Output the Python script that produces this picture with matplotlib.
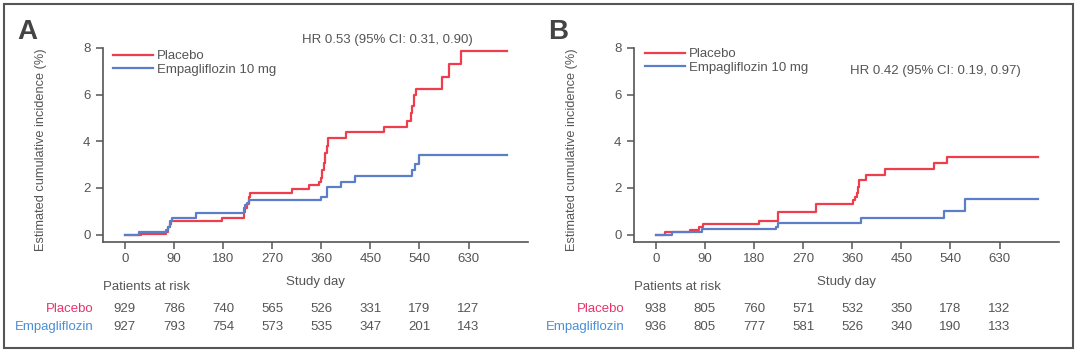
import matplotlib
matplotlib.use("Agg")
import matplotlib.pyplot as plt
from matplotlib.patches import Rectangle

plt.rcParams['font.family'] = ['Liberation Sans', 'DejaVu Sans']

# painel A
dias_plac_a = [0, 30, 76, 79, 82, 85, 179, 218, 221, 224, 227, 230, 307, 338, 356, 360, 362, 365,
               367, 370, 372, 406, 475, 518, 524, 527, 530, 533, 582, 594, 617, 700]
inc_plac_a = [0, 0.04, 0.13, 0.34, 0.46, 0.56, 0.70, 0.96, 1.13, 1.31, 1.63, 1.79, 1.94, 2.11, 2.27, 2.41,
              2.77, 3.06, 3.5, 3.8, 4.16, 4.4, 4.63, 4.89, 5.2, 5.5, 5.97, 6.26, 6.76, 7.31, 7.86, 7.86]
dias_empa_a = [0, 26, 75, 79, 83, 87, 130, 218, 221, 224, 227, 360, 370, 397, 422, 527, 532, 540, 700]
inc_empa_a = [0, 0.11, 0.2, 0.34, 0.56, 0.69, 0.93, 1.13, 1.27, 1.37, 1.46, 1.63, 2.06, 2.27, 2.53,
              2.77, 3.03, 3.43, 3.43]

# painel B
dias_plac_b = [0, 16, 62, 79, 87, 189, 224, 294, 361, 365, 368, 370, 373, 385, 420, 509, 533, 700]
inc_plac_b = [0, 0.11, 0.2, 0.33, 0.46, 0.57, 0.97, 1.3, 1.46, 1.63, 1.8, 2.06, 2.33, 2.56, 2.79,
              3.06, 3.34, 3.34]
dias_empa_b = [0, 29, 85, 221, 224, 376, 529, 567, 700]
inc_empa_b = [0, 0.11, 0.23, 0.34, 0.49, 0.73, 1.0, 1.51, 1.51]

ticks_dia = [0, 90, 180, 270, 360, 450, 540, 630]
risco_plac_a = [929, 786, 740, 565, 526, 331, 179, 127]
risco_empa_a = [927, 793, 754, 573, 535, 347, 201, 143]
risco_plac_b = [938, 805, 760, 571, 532, 350, 178, 132]
risco_empa_b = [936, 805, 777, 581, 526, 340, 190, 133]

hr_a = "HR 0.53 (95% CI: 0.31, 0.90)"
hr_b = "HR 0.42 (95% CI: 0.19, 0.97)"

COR_PLAC = '#EE3E4E'
COR_EMPA = '#5A7EC8'
COR_TXT_PLAC = '#E8336B'
COR_TXT_EMPA = '#4A8FD6'
CINZA = '#555555'

W, H = 1080, 355


def painel(fig, x0, letra, dp, ip, de, ie, rp, re_, hr, hr_pos, leg_pos):
    # eixo em pixels: esquerda x0, largura 425, topo 48, base 242
    ax = fig.add_axes([x0 / W, 1 - 242 / H, 425 / W, 194 / H])
    ax.step(dp, ip, where='post', color=COR_PLAC, lw=1.6, label='Placebo')
    ax.step(de, ie, where='post', color=COR_EMPA, lw=1.6, label='Empagliflozin 10 mg')
    ax.set_xlim(-40, 739)
    ax.set_ylim(-0.32, 8)
    ax.set_xticks(ticks_dia)
    ax.set_yticks([0, 2, 4, 6, 8])
    for s in ['top', 'right']:
        ax.spines[s].set_visible(False)
    for s in ['left', 'bottom']:
        ax.spines[s].set_color(CINZA)
        ax.spines[s].set_linewidth(1.2)
    ax.tick_params(axis='both', colors=CINZA, labelsize=9.5, length=5, width=1.1)
    ax.tick_params(axis='x', pad=3)
    ax.tick_params(axis='y', pad=4)

    leg = ax.legend(loc='upper left', bbox_to_anchor=leg_pos, frameon=False, fontsize=9.5,
                    handlelength=3.0, handletextpad=0.3, labelspacing=0.1, borderpad=0,
                    borderaxespad=0)
    for t in leg.get_texts():
        t.set_color(CINZA)

    ax.text(hr_pos[0], hr_pos[1], hr, transform=ax.transAxes, ha='center', va='center',
            fontsize=9.5, color=CINZA)
    ax.text(0.5, -0.206, "Study day", transform=ax.transAxes, ha='center', va='center',
            fontsize=9.5, color=CINZA)
    ax.text(0.0, -0.232, "Patients at risk", transform=ax.transAxes, ha='left', va='center',
            fontsize=9.5, color=CINZA)

    trans = ax.get_xaxis_transform()
    ax.text(-57, -0.345, "Placebo", transform=trans, ha='right', va='center', fontsize=9.5,
            color=COR_TXT_PLAC, clip_on=False)
    ax.text(-57, -0.438, "Empagliflozin", transform=trans, ha='right', va='center', fontsize=9.5,
            color=COR_TXT_EMPA, clip_on=False)
    for d, a, b in zip(ticks_dia, rp, re_):
        ax.text(d, -0.345, str(a), transform=trans, ha='center', va='center', fontsize=9.5, color=CINZA)
        ax.text(d, -0.438, str(b), transform=trans, ha='center', va='center', fontsize=9.5, color=CINZA)

    # rotulo do eixo y e letra do painel
    fig.text((x0 - 62) / W, 1 - 150 / H, "Estimated cumulative incidence (%)", rotation=90,
             ha='center', va='center', fontsize=9.2, color=CINZA)
    fig.text((x0 - 86) / W, 1 - 32 / H, letra, ha='left', va='center', fontsize=20,
             fontweight='bold', color='#444444')
    return ax


fig = plt.figure(figsize=(10.8, 3.55), dpi=100)

painel(fig, 103, "A", dias_plac_a, inc_plac_a, dias_empa_a, inc_empa_a,
       risco_plac_a, risco_empa_a, hr_a, (0.67, 1.04), (0.024, 0.99))
painel(fig, 634, "B", dias_plac_b, inc_plac_b, dias_empa_b, inc_empa_b,
       risco_plac_b, risco_empa_b, hr_b, (0.71, 0.88), (0.026, 1.0))

# moldura
fig.patches.append(Rectangle((4 / W, 1 - 348 / H), 1069 / W, 344 / H, transform=fig.transFigure,
                             fill=False, edgecolor='#555555', linewidth=1.5))

fig.savefig("out.png", dpi=100)
